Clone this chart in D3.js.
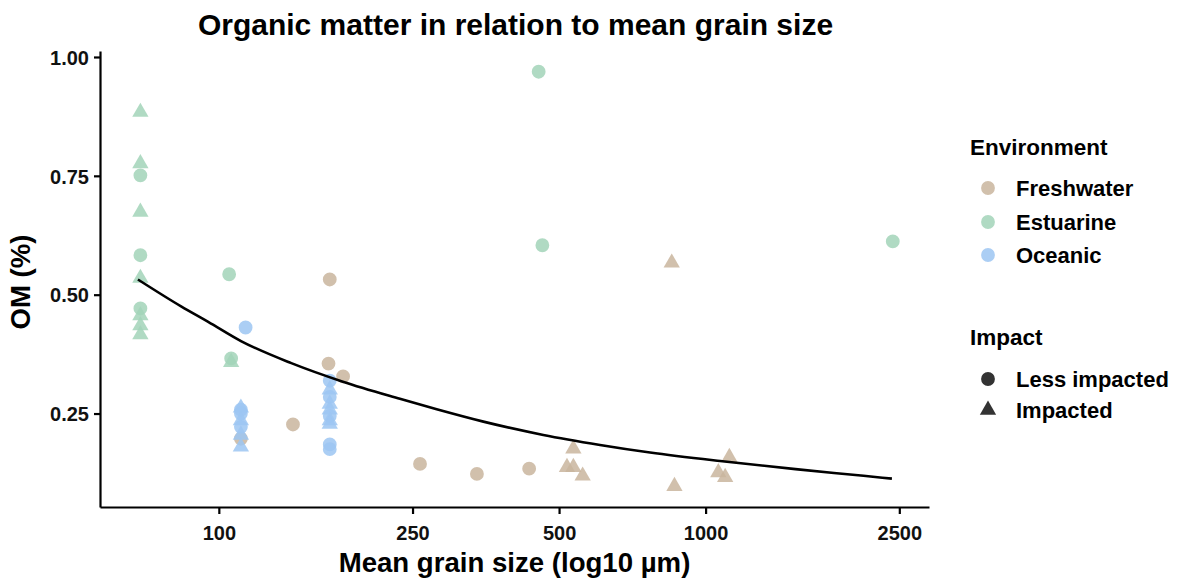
<!DOCTYPE html>
<html>
<head>
<meta charset="utf-8">
<script src="https://cdn.jsdelivr.net/npm/d3@7"></script>
<style>
  html, body { margin: 0; padding: 0; background: #fff; }
  svg { display: block; font-family: "Liberation Sans", Arial, sans-serif; }
</style>
</head>
<body>
<svg id="chart" width="1187" height="578"></svg>
<script>
// Samples: [mean grain size (µm), organic matter (%), impact]
// impact: "L" = Less impacted, "I" = Impacted
const freshwater = [
  [111, 0.197, "L"], [142, 0.227, "L"], [169, 0.532, "L"], [168, 0.355, "L"],
  [180, 0.328, "L"], [259, 0.144, "L"], [339, 0.123, "L"], [434, 0.134, "L"],
  [519, 0.137, "I"], [535, 0.137, "I"], [535, 0.176, "I"], [559, 0.119, "I"],
  [852, 0.567, "I"], [863, 0.097, "I"], [1062, 0.126, "I"], [1097, 0.116, "I"],
  [1119, 0.158, "I"]
];
const estuarine = [
  [69, 0.884, "I"], [69, 0.776, "I"], [69, 0.751, "L"], [69, 0.674, "I"],
  [69, 0.583, "L"], [69, 0.535, "I"], [69, 0.471, "L"], [69, 0.456, "I"],
  [69, 0.435, "I"], [69, 0.416, "I"], [105, 0.543, "L"], [106, 0.366, "L"],
  [106, 0.358, "I"], [454, 0.969, "L"], [462, 0.604, "L"], [2424, 0.612, "L"]
];
const oceanic = [
  [113.5, 0.431, "L"], [111, 0.262, "I"], [111, 0.258, "L"], [111, 0.250, "L"],
  [111, 0.235, "I"], [111, 0.222, "L"], [111, 0.205, "I"], [111, 0.180, "I"],
  [169, 0.319, "L"], [169, 0.300, "I"], [169, 0.285, "L"], [169, 0.270, "I"],
  [169, 0.258, "I"], [169, 0.245, "L"], [169, 0.235, "I"], [169, 0.228, "I"],
  [169, 0.185, "L"], [169, 0.175, "L"]
];

// Fitted trend curve: [grain size, OM]
const trend = [
  [68.2, 0.532], [83.8, 0.475], [95.1, 0.443], [111.3, 0.402], [140.9, 0.356],
  [179.8, 0.317], [235.5, 0.281], [280.3, 0.259], [349.5, 0.233], [464.1, 0.205],
  [606.9, 0.184], [769, 0.168], [1071, 0.150], [1530, 0.133], [2111, 0.119],
  [2414, 0.113]
];

const xTicks = [100, 250, 500, 1000, 2500];
const yTicks = [0.25, 0.50, 0.75, 1.00];

const environments = ["Freshwater", "Estuarine", "Oceanic"];
const envColors = ["#c9b59d", "#a2d4b8", "#9cc6f2"];
const impacts = ["Less impacted", "Impacted"];

const svg = d3.select("#chart");
const panel = { left: 100, right: 929, top: 51, bottom: 507 };

const x = d3.scaleLog().domain([57, 2877]).range([panel.left, panel.right]);
const y = d3.scaleLinear().domain([0.0534, 1.0126]).range([panel.bottom, panel.top]);
const color = d3.scaleOrdinal().domain(environments).range(envColors);

const circleSym = d3.symbol().type(d3.symbolCircle).size(150);
const triSym = d3.symbol().type(d3.symbolTriangle).size(115);

// Points
const points = [
  ...freshwater.map(d => ({ env: "Freshwater", g: d[0], om: d[1], imp: d[2] })),
  ...estuarine.map(d => ({ env: "Estuarine", g: d[0], om: d[1], imp: d[2] })),
  ...oceanic.map(d => ({ env: "Oceanic", g: d[0], om: d[1], imp: d[2] }))
];

svg.append("g")
  .selectAll("path")
  .data(points)
  .join("path")
  .attr("transform", d => `translate(${x(d.g)},${y(d.om)})`)
  .attr("d", d => d.imp === "I" ? triSym() : circleSym())
  .attr("fill", d => color(d.env))
  .attr("fill-opacity", 0.85);

// Trend line
svg.append("path")
  .datum(trend)
  .attr("fill", "none")
  .attr("stroke", "#000")
  .attr("stroke-width", 2.6)
  .attr("d", d3.line().x(d => x(d[0])).y(d => y(d[1])).curve(d3.curveMonotoneX));

// Axes
const xAxis = svg.append("g")
  .attr("transform", `translate(0,${panel.bottom})`)
  .call(d3.axisBottom(x).tickValues(xTicks).tickFormat(d3.format("d")).tickSize(7).tickSizeOuter(0));
const yAxis = svg.append("g")
  .attr("transform", `translate(${panel.left},0)`)
  .call(d3.axisLeft(y).tickValues(yTicks).tickFormat(d3.format(".2f")).tickSize(6).tickSizeOuter(0));

[xAxis, yAxis].forEach(a => {
  a.select(".domain").attr("stroke", "#000").attr("stroke-width", 2.2);
  a.selectAll(".tick line").attr("stroke", "#000").attr("stroke-width", 2.2);
  a.selectAll(".tick text")
    .attr("fill", "#111")
    .attr("font-size", 20)
    .attr("font-weight", "bold")
    .attr("font-family", "'Liberation Sans', Arial, sans-serif");
});
xAxis.selectAll(".tick text").attr("dy", "1.15em");
yAxis.selectAll(".tick text").attr("x", -11).attr("dy", "0.36em");

// Titles
svg.append("text")
  .attr("x", (panel.left + panel.right) / 2 + 1).attr("y", 35)
  .attr("text-anchor", "middle")
  .attr("font-size", 30).attr("font-weight", "bold").attr("fill", "#000")
  .text("Organic matter in relation to mean grain size");

svg.append("text")
  .attr("x", (panel.left + panel.right) / 2).attr("y", 572)
  .attr("text-anchor", "middle")
  .attr("font-size", 27.6).attr("font-weight", "bold").attr("fill", "#000")
  .text("Mean grain size (log10 µm)");

svg.append("text")
  .attr("transform", `translate(30,${(panel.top + panel.bottom) / 2 + 3}) rotate(-90)`)
  .attr("text-anchor", "middle")
  .attr("font-size", 27.6).attr("font-weight", "bold").attr("fill", "#000")
  .text("OM (%)");

// Legends
const leg = svg.append("g");
leg.append("text").attr("x", 970).attr("y", 155)
  .attr("font-size", 22.5).attr("font-weight", "bold").attr("fill", "#000")
  .text("Environment");
const envRows = [188, 222, 255];
environments.forEach((e, i) => {
  leg.append("path")
    .attr("transform", `translate(988,${envRows[i]})`)
    .attr("d", circleSym())
    .attr("fill", color(e)).attr("fill-opacity", 0.85);
  leg.append("text").attr("x", 1016).attr("y", envRows[i]).attr("dy", "0.36em")
    .attr("font-size", 22).attr("font-weight", "bold").attr("fill", "#000")
    .text(e);
});

leg.append("text").attr("x", 970).attr("y", 345)
  .attr("font-size", 22.5).attr("font-weight", "bold").attr("fill", "#000")
  .text("Impact");
const impRows = [379, 410];
impacts.forEach((m, i) => {
  leg.append("path")
    .attr("transform", `translate(988,${impRows[i]})`)
    .attr("d", i === 0 ? circleSym() : triSym())
    .attr("fill", "#333");
  leg.append("text").attr("x", 1016).attr("y", impRows[i]).attr("dy", "0.36em")
    .attr("font-size", 22).attr("font-weight", "bold").attr("fill", "#000")
    .text(m);
});
</script>
</body>
</html>
